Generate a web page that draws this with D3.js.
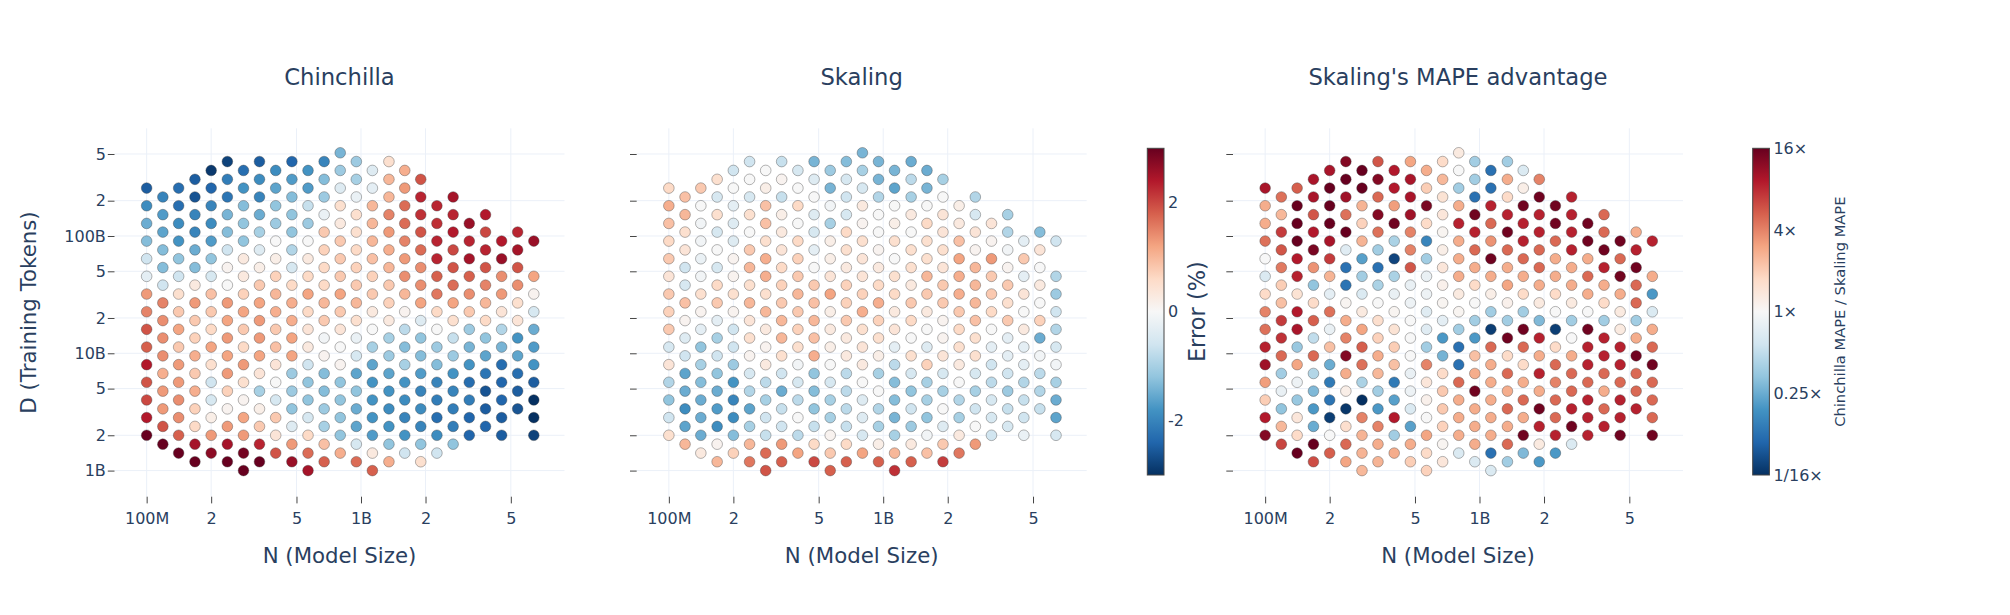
<!DOCTYPE html>
<html>
<head>
<meta charset="utf-8">
<script src="https://cdn.jsdelivr.net/npm/d3@7"></script>
<style>
  body { margin: 0; background: #fff; }
  text { font-family: "DejaVu Sans", Verdana, sans-serif; fill: #2a3f5f; }
</style>
</head>
<body>
<div id="chart"></div>
<script>
// N (model size) for each column of the grid
var modelSizes = [1.00e8, 1.19e8, 1.41e8, 1.68e8, 2.00e8, 2.38e8, 2.83e8, 3.36e8, 4.00e8, 4.76e8,
    5.66e8, 6.73e8, 8.00e8, 9.51e8, 1.13e9, 1.35e9, 1.60e9, 1.90e9, 2.26e9, 2.69e9,
    3.20e9, 3.81e9, 4.53e9, 5.38e9, 6.40e9];

// D (training tokens) levels
var tokenCounts = [1.00e9, 1.19e9, 1.41e9, 1.68e9, 2.00e9, 2.38e9, 2.83e9, 3.36e9, 4.00e9, 4.76e9,
    5.66e9, 6.73e9, 8.00e9, 9.51e9, 1.13e10, 1.35e10, 1.60e10, 1.90e10, 2.26e10, 2.69e10,
    3.20e10, 3.81e10, 4.53e10, 5.38e10, 6.40e10, 7.61e10, 9.05e10, 1.08e11, 1.28e11, 1.52e11,
    1.81e11, 2.15e11, 2.56e11, 3.04e11, 3.62e11, 4.31e11, 5.12e11];

// lowest D level in each column (each column then steps two levels up)
var firstTokenIndex = [4, 3, 2, 1, 2, 1, 0, 1, 2, 1, 0, 1, 2, 1, 0, 1, 2, 1, 2, 3, 4, 5, 4, 7, 4];

// Chinchilla error (%), per column, bottom to top
var chinchillaError = [
    [3.0, 2.4, 2.0, 1.9, 2.4, 1.8, 1.9, 1.5, 1.3, -0.3, -0.6, -1.3, -1.5, -1.9, -2.5],
    [3.0, 1.9, 1.3, 1.3, 1.1, 1.4, 1.4, 1.4, 1.5, -0.6, -1.3, -1.3, -1.6, -1.7, -2.0],
    [3.0, 1.8, 1.4, 1.4, 1.3, 1.3, 0.8, 1.2, 0.8, 0.5, -0.6, -1.2, -1.8, -1.9, -2.3, -2.3],
    [3.0, 2.5, 0.6, 0.7, 1.1, 0.8, 1.1, 0.7, 0.8, 1.3, 0.3, -1.3, -1.5, -2.0, -2.0, -2.6, -2.5],
    [2.7, 1.3, 0.2, -0.5, -0.6, 0.5, 1.2, 0.6, 0.8, 0.9, -0.5, -1.2, -1.7, -1.9, -2.0, -2.4, -2.9],
    [3.0, 2.5, 1.3, 0.1, 0.7, 1.3, 1.2, 1.3, 1.2, 1.3, 0.0, 0.1, -0.6, -1.3, -1.4, -2.2, -2.1, -2.8],
    [3.0, 2.9, 1.3, 1.2, 0.1, 0.5, 1.3, 0.6, 0.8, 1.2, 0.7, 0.3, 0.3, -1.2, -1.2, -1.3, -1.8, -2.3],
    [3.0, 2.3, 0.8, 0.2, -1.0, 0.4, 1.2, 1.3, 1.3, 1.2, 0.8, 0.2, -0.4, -1.0, -1.5, -2.0, -1.9, -2.5],
    [1.9, 0.4, 0.8, -0.5, 0.0, 0.4, 0.9, 0.8, 1.1, 1.0, 0.7, 0.2, 0.0, -1.1, -1.2, -1.6, -1.9],
    [2.6, 1.3, -0.4, -1.2, -1.1, -1.1, 1.2, 1.2, 1.1, 1.1, 0.6, -0.5, -0.9, -1.2, -1.2, -1.3, -1.7, -2.4],
    [2.5, 1.7, 0.6, -0.5, -1.2, -1.2, -0.6, 0.3, 0.4, 0.6, 1.2, 0.6, 0.3, 0.0, -1.1, -0.7, -1.7, -1.8],
    [1.8, 0.9, -1.0, -1.1, -1.3, -1.3, 0.1, -0.1, 0.8, 1.0, 0.6, 0.6, 0.7, 0.8, -0.2, -1.1, -1.3, -2.0],
    [1.1, -1.2, -1.2, -1.2, -1.2, 0.1, 0.0, 0.4, 0.8, 1.2, 0.8, 0.8, 0.8, 0.3, 0.5, -0.4, -1.1, -1.4],
    [1.7, -0.5, -1.6, -1.5, -1.2, -1.6, -0.5, -0.2, 0.5, 1.0, 0.8, 0.7, 0.6, 0.5, 0.5, -0.2, -1.0, -1.1],
    [1.8, 0.3, -1.7, -1.8, -1.8, -1.8, -1.6, -1.0, 0.0, 0.3, 0.8, 0.7, 0.9, 1.0, 1.0, 1.0, -0.3, -0.4],
    [1.1, -1.2, -1.8, -1.9, -1.8, -1.6, -1.1, -1.0, 0.3, 0.7, 0.8, 1.0, 1.1, 1.3, 1.5, 1.0, 1.0, 0.5],
    [-0.6, -1.8, -2.0, -1.9, -1.8, -1.0, -1.3, -0.8, 0.1, 1.0, 1.4, 1.3, 1.5, 1.7, 1.7, 1.3, 1.1],
    [0.5, -1.2, -2.0, -1.9, -2.0, -1.7, -1.3, -1.2, -0.4, 1.2, 1.4, 1.4, 1.7, 1.9, 2.2, 2.3, 1.9],
    [-0.6, -1.9, -2.3, -2.1, -2.0, -1.3, -1.1, 0.0, 0.6, 1.6, 1.8, 2.3, 2.3, 2.2, 2.3],
    [-1.2, -2.1, -2.1, -2.0, -1.8, -1.1, -0.7, 0.5, 1.2, 1.7, 1.9, 2.0, 2.4, 2.3, 2.5],
    [-2.4, -2.4, -2.1, -2.3, -1.8, -1.4, -1.1, 0.8, 1.4, 1.8, 2.5, 2.3, 2.6],
    [-2.4, -2.5, -2.6, -2.2, -1.6, -1.2, 0.6, 1.0, 1.5, 1.9, 2.3, 2.0, 2.4],
    [-2.5, -2.5, -2.4, -2.4, -2.3, -1.4, -0.9, 0.4, 1.3, 1.4, 2.6, 2.4],
    [-2.6, -2.5, -2.3, -1.6, -1.8, 0.4, 0.5, 1.4, 1.9, 2.5, 2.3],
    [-2.8, -3.0, -3.0, -2.5, -1.8, -1.7, -1.5, -0.5, 0.1, 1.2, null, 2.6]
];

// Skaling error (%), per column, bottom to top
var skalingError = [
    [0.5, -0.6, -1.2, -0.9, 0.4, -0.5, 0.8, 0.7, 0.8, 0.4, 0.8, 0.6, 0.9, 1.1, 0.6],
    [1.0, -1.6, -1.9, -1.5, -1.6, -0.6, -0.4, 0.1, 0.9, -0.5, -0.6, 0.4, 0.5, 1.0, 0.9],
    [0.3, -1.5, -1.5, -1.5, -1.3, -1.0, -1.2, -0.3, 0.1, 0.5, -0.1, -0.2, -0.1, -0.1, 0.0, 0.8],
    [1.0, 0.1, -1.9, -1.7, -1.5, -1.2, -0.6, -1.0, -0.3, 0.8, 0.6, -0.5, 0.0, -0.5, 0.5, -0.5, 0.5],
    [0.7, -1.3, -1.9, -2.0, -1.8, -1.1, -0.6, -0.6, 0.1, 0.5, 0.1, 0.1, -0.4, -0.4, -0.3, 0.0, -0.6],
    [1.6, 1.0, -1.0, -1.6, -0.9, -0.5, 0.1, 0.5, 0.4, 1.0, 0.5, 1.0, 0.8, 0.0, 0.5, -0.5, 0.0, -0.6],
    [1.9, 1.7, -0.7, -0.6, -1.0, -0.8, 0.3, 0.1, 0.3, 1.0, 0.5, 1.1, 1.1, 0.5, 0.9, 0.9, 0.2, 0.0],
    [1.8, 1.3, -0.6, -0.7, -1.5, -0.6, 0.5, 1.0, 1.0, 0.8, 0.7, 0.6, 0.4, 0.3, 0.2, -0.7, 0.1, -0.7],
    [1.2, -0.8, 0.0, -0.8, -0.5, -0.1, 0.5, 0.7, 0.8, 1.0, 0.8, 0.7, 0.6, 0.0, 0.6, 0.0, -0.5],
    [2.0, 0.6, -0.7, -1.2, -1.3, -1.2, 1.1, 0.9, 1.0, 0.9, 0.8, 0.0, -0.3, -0.5, -0.4, 0.0, -0.4, -1.4],
    [1.8, 0.8, 0.1, -1.0, -1.0, -0.5, 0.0, 0.2, 0.3, 0.2, 1.2, 0.4, 0.2, 0.2, -1.0, -0.1, -1.4, -1.1],
    [1.8, 0.6, -0.7, -0.8, -0.8, -0.8, 0.3, 0.3, 0.8, 0.7, 0.7, 0.3, 0.5, 0.6, -0.5, -0.6, -0.5, -1.3],
    [1.2, -0.5, -0.4, -0.4, 0.0, 0.3, 0.4, 0.5, 1.1, 0.7, 0.4, 0.4, 0.5, 0.1, 0.3, -0.5, -1.0, -1.4],
    [1.8, 0.2, -1.0, -0.9, 0.0, -1.0, 0.2, 0.5, 0.7, 1.1, 0.6, 0.3, 0.1, 0.0, 0.0, -0.9, -1.4, -1.4],
    [2.2, 1.0, -1.0, -1.4, -1.3, -1.3, -0.8, -0.3, 0.4, 0.3, 0.6, 0.5, 0.0, 0.5, 0.2, 0.0, -1.6, -1.4],
    [1.8, 0.3, -1.1, -0.6, -1.2, -0.5, 0.5, 0.0, 0.6, 0.8, 0.3, 0.5, 0.5, 0.0, 0.3, -1.0, -0.8, -1.5],
    [0.9, -0.1, -1.2, -1.0, -1.0, 0.7, -0.4, 0.0, 0.3, 0.8, 1.0, 0.5, 0.5, 0.6, 0.0, -1.4, -1.5],
    [2.1, 0.8, -0.4, 0.0, -1.0, -0.5, 0.4, 0.1, 0.1, 0.8, 0.8, 0.4, 0.5, 0.4, 0.4, 0.0, -1.0],
    [1.6, 0.3, -1.0, -0.9, 0.0, 0.3, 0.5, 0.6, 0.8, 1.1, 1.1, 1.2, 0.9, 0.3, 0.2],
    [1.3, 0.0, -0.6, -1.0, -0.5, 0.5, 0.5, 0.9, 1.0, 1.0, 1.0, 0.1, 0.4, -0.5, -0.9],
    [-0.6, -0.5, -0.5, -0.8, -0.6, -0.3, 0.0, 0.6, 0.8, 0.8, 1.3, 0.1, 0.4],
    [-0.5, -0.7, -1.1, -0.6, -0.3, -0.3, 0.8, 0.5, 0.8, 0.1, -0.1, -0.9, -1.0],
    [-0.2, -0.6, -0.7, -0.9, -0.3, -0.3, 0.3, 0.0, 0.4, -0.3, 0.8, -0.3],
    [-0.7, -0.9, -0.8, -0.1, -1.5, 0.7, 0.0, 0.3, 0.0, 0.4, -1.3],
    [-0.5, -1.6, -1.5, -1.0, -0.1, -0.5, -0.9, -0.6, -1.1, -0.9, null, -0.6]
];

// Chinchilla MAPE / Skaling MAPE, per column, bottom to top
var mapeRatio = [
    [13, 9.2, 2.0, 3.2, 10.6, 8.6, 4.6, 4, 1.7, 0.66, 1.0, 4.6, 2.8, 2.8, 9.8],
    [6.5, 2.5, 0.33, 0.81, 0.38, 4.9, 7.5, 7, 2.3, 2.0, 4.3, 5.7, 7, 2.5, 4.6],
    [16, 1.7, 1.4, 0.35, 0.87, 3.0, 0.35, 9.8, 9.2, 1.5, 8.6, 9.2, 16, 16, 16, 5.3],
    [6.1, 16, 0.25, 0.2, 0.29, 0.44, 4.9, 0.5, 5.3, 1.7, 0.33, 3.5, 14, 9.2, 5.7, 9.8, 9.8],
    [5.3, 1.0, 0.072, 0.13, 0.14, 0.25, 2.3, 0.81, 4.6, 0.76, 2.6, 7, 9.8, 16, 16, 16, 9.8],
    [3.0, 4.9, 1.6, 0.067, 1.2, 2.8, 13, 4, 2.8, 1.07, 0.13, 0.125, 0.71, 16, 4.6, 10.6, 16, 13],
    [2.5, 2.6, 2.6, 4, 0.0625, 0.41, 4.6, 5.3, 3.0, 1.3, 0.66, 0.38, 0.22, 2.6, 1.9, 2.6, 16, 16],
    [2.6, 2.8, 4, 0.2, 0.38, 2.5, 2.8, 1.9, 1.6, 1.0, 0.41, 0.125, 0.38, 4.6, 13, 4.9, 13, 5.7],
    [2.8, 0.38, 9.2, 0.22, 0.14, 2.3, 2.0, 1.5, 1.07, 0.81, 0.41, 0.077, 0.41, 15, 3.2, 9.2, 9.2],
    [2.0, 2.8, 0.22, 0.66, 0.87, 0.81, 1.0, 1.0, 1.0, 0.87, 0.81, 5.7, 4, 4, 10.6, 9.8, 9.8, 3.0],
    [1.9, 1.7, 3.0, 1.0, 1.15, 1.4, 4, 0.38, 0.71, 0.71, 0.87, 0.81, 0.38, 0.16, 1.7, 14, 2.0, 2.8],
    [1.4, 1.07, 1.9, 2.1, 2.1, 1.7, 0.27, 0.2, 0.76, 1.07, 1.15, 1.4, 1.2, 1.07, 1.4, 1.5, 2.5, 1.7],
    [0.66, 2.8, 2.8, 2.8, 4.9, 0.125, 0.125, 0.38, 1.07, 1.3, 2.8, 2.8, 2.8, 8.6, 2.8, 0.38, 1.0, 1.3],
    [0.66, 2.8, 2.8, 2.8, 15, 2.8, 2.3, 0.2, 0.38, 1.0, 1.7, 2.8, 4.9, 8.6, 15, 0.125, 0.38, 0.38],
    [0.66, 0.125, 2.8, 2.8, 2.8, 2.8, 2.8, 4.9, 0.072, 0.38, 1.2, 2.8, 15, 3.5, 4.9, 8.6, 0.125, 0.125],
    [0.38, 4.9, 2.8, 4.9, 2.8, 4.9, 1.7, 15, 0.38, 1.15, 3.0, 2.8, 4.9, 15, 8.6, 1.7, 2.8, 0.38],
    [0.29, 15, 2.8, 4.9, 2.8, 1.7, 4.9, 15, 0.38, 1.7, 2.8, 4.9, 8.6, 8.6, 15, 1.2, 0.66],
    [0.2, 1.3, 8.6, 15, 2.8, 8.6, 2.8, 8.6, 0.29, 1.3, 2.8, 4.9, 4.9, 8.6, 8.6, 15, 4],
    [0.2, 8.6, 4.9, 4.9, 4, 4.9, 1.7, 0.072, 1.0, 1.7, 2.8, 2.8, 4.9, 15, 15],
    [0.66, 15, 8.6, 4.9, 4.9, 2.8, 1.0, 0.38, 1.3, 2.8, 2.8, 8.6, 8.6, 8.6, 8.6],
    [8.6, 8.6, 8.6, 4.9, 8.6, 8.6, 15, 1.0, 2.8, 4.9, 2.8, 15, 15],
    [8.6, 4.9, 2.8, 4.9, 8.6, 8.6, 0.38, 1.7, 2.8, 8.6, 15, 4.9, 4.9],
    [15, 8.6, 8.6, 4.9, 8.6, 8.6, 1.3, 1.3, 2.8, 15, 4.9, 15],
    [8.6, 4.9, 4.9, 15, 2.8, 0.38, 4.9, 4.9, 15, 8.6, 2.8],
    [15, 4.9, 4.9, 4.9, 15, 4.9, 2.8, 0.66, 0.2, 2.8, null, 8.6]
];

var xTickValues = [1e8, 2e8, 5e8, 1e9, 2e9, 5e9];
var xTickLabels = ["100M", "2", "5", "1B", "2", "5"];
var yTickValues = [1e9, 2e9, 5e9, 1e10, 2e10, 5e10, 1e11, 2e11, 5e11];
var yTickLabels = ["1B", "2", "5", "10B", "2", "5", "100B", "2", "5"];
var errorTicks = [-2, 0, 2];
var errorTickLabels = ["-2", "0", "2"];
var ratioTicks = [16, 4, 1, 0.25, 1 / 16];
var ratioTickLabels = ["16×", "4×", "1×", "0.25×", "1/16×"];

// ---- layout ----
var width = 2010;
var height = 615;
var plotTop = 128.3;
var plotBottom = 496.7;
var plotWidth = 450;
var panelLeft = [114.5, 636.7, 1233];
var cbTop = 148.3, cbBottom = 475, cbWidth = 16.7;

var rdbu = ["#053061", "#2166ac", "#4393c3", "#92c5de", "#d1e5f0", "#f7f7f7",
    "#fddbc7", "#f4a582", "#d6604d", "#b2182b", "#67001f"];

var errorColor = d3.scaleLinear()
    .domain(d3.range(11).map((i) => -3 + i * 0.6))
    .range(rdbu)
    .clamp(true);

var ratioColor = d3.scaleLog().base(2)
    .domain(d3.range(11).map((i) => Math.pow(2, -4 + i * 0.8)))
    .range(rdbu)
    .clamp(true);

var svg = d3.select("#chart")
    .append("svg")
    .attr("width", width)
    .attr("height", height);

var y = d3.scaleLog()
    .domain([5.99e8, 8.28e11])
    .range([plotBottom, plotTop]);

var panels = [
    { title: "Chinchilla", values: chinchillaError, color: errorColor },
    { title: "Skaling", values: skalingError, color: errorColor },
    { title: "Skaling's MAPE advantage", values: mapeRatio, color: ratioColor }
];

panels.forEach(function (p, pi) {
    var left = panelLeft[pi];
    var x = d3.scaleLog()
        .domain([7.08e7, 8.9e9])
        .range([left, left + plotWidth]);

    var g = svg.append("g");

    // grid
    g.selectAll(".vgrid")
        .data(xTickValues)
        .enter()
        .append("line")
        .attr("x1", (d) => x(d)).attr("x2", (d) => x(d))
        .attr("y1", plotTop).attr("y2", plotBottom)
        .attr("stroke", "#ebf0f8").attr("stroke-width", 1);

    g.selectAll(".hgrid")
        .data(yTickValues)
        .enter()
        .append("line")
        .attr("x1", left).attr("x2", left + plotWidth)
        .attr("y1", (d) => y(d)).attr("y2", (d) => y(d))
        .attr("stroke", "#ebf0f8").attr("stroke-width", 1);

    // axes
    var xAxis = d3.axisBottom(x)
        .tickValues(xTickValues)
        .tickFormat((d, i) => xTickLabels[i])
        .tickSize(6.7)
        .tickPadding(9);
    var gx = g.append("g")
        .attr("transform", "translate(0," + plotBottom + ")")
        .call(xAxis);

    var yAxis = d3.axisLeft(y)
        .tickValues(yTickValues)
        .tickFormat((d, i) => pi === 0 ? yTickLabels[i] : "")
        .tickSize(6.7)
        .tickPadding(2);
    var gy = g.append("g")
        .attr("transform", "translate(" + left + ",0)")
        .call(yAxis);

    [gx, gy].forEach(function (ax) {
        ax.select(".domain").remove();
        ax.selectAll(".tick line").attr("stroke", "#444");
        ax.selectAll(".tick text")
            .attr("font-size", 16)
            .attr("font-family", "DejaVu Sans, Verdana, sans-serif")
            .attr("fill", "#2a3f5f");
    });

    // points
    var points = [];
    p.values.forEach(function (col, k) {
        col.forEach(function (v, i) {
            if (v === null) return;
            points.push({ n: modelSizes[k], d: tokenCounts[firstTokenIndex[k] + 2 * i], v: v });
        });
    });

    g.selectAll(".pt")
        .data(points)
        .enter()
        .append("circle")
        .attr("class", "pt")
        .attr("cx", (d) => x(d.n))
        .attr("cy", (d) => y(d.d))
        .attr("r", 5.33)
        .attr("fill", (d) => p.color(d.v))
        .attr("stroke", "rgba(60,60,60,0.55)")
        .attr("stroke-width", 0.7);

    // titles
    g.append("text")
        .attr("x", left + plotWidth / 2)
        .attr("y", 85)
        .attr("text-anchor", "middle")
        .attr("font-size", 22.7)
        .text(p.title);

    g.append("text")
        .attr("x", left + plotWidth / 2)
        .attr("y", 563)
        .attr("text-anchor", "middle")
        .attr("font-size", 21.3)
        .text("N (Model Size)");
});

svg.append("text")
    .attr("transform", "translate(36.3," + (plotTop + plotBottom) / 2 + ") rotate(-90)")
    .attr("text-anchor", "middle")
    .attr("font-size", 21.3)
    .text("D (Training Tokens)");

// ---- colorbars ----
var defs = svg.append("defs");
var grad = defs.append("linearGradient")
    .attr("id", "rdbu")
    .attr("x1", 0).attr("y1", 1).attr("x2", 0).attr("y2", 0);
grad.selectAll("stop")
    .data(rdbu)
    .enter()
    .append("stop")
    .attr("offset", (d, i) => i / 10)
    .attr("stop-color", (d) => d);

function colorbar(x0, scale, ticks, labels, title, titleX, titleSize) {
    svg.append("rect")
        .attr("x", x0).attr("y", cbTop)
        .attr("width", cbWidth).attr("height", cbBottom - cbTop)
        .attr("fill", "url(#rdbu)")
        .attr("stroke", "#444").attr("stroke-width", 1);

    svg.selectAll(null)
        .data(ticks)
        .enter()
        .append("text")
        .attr("x", x0 + cbWidth + 4)
        .attr("y", (d) => scale(d))
        .attr("dy", "0.35em")
        .attr("font-size", 16)
        .text((d, i) => labels[i]);

    svg.append("text")
        .attr("transform", "translate(" + titleX + "," + (cbTop + cbBottom) / 2 + ") rotate(-90)")
        .attr("text-anchor", "middle")
        .attr("font-size", titleSize)
        .text(title);
}

var errorY = d3.scaleLinear().domain([-3, 3]).range([cbBottom, cbTop]);
colorbar(1147.3, errorY, errorTicks, errorTickLabels, "Error (%)", 1204.8, 22.5);

var ratioY = d3.scaleLog().base(2).domain([1 / 16, 16]).range([cbBottom, cbTop]);
colorbar(1752.7, ratioY, ratioTicks, ratioTickLabels, "Chinchilla MAPE / Skaling MAPE", 1845.3, 14.7);
</script>
</body>
</html>
